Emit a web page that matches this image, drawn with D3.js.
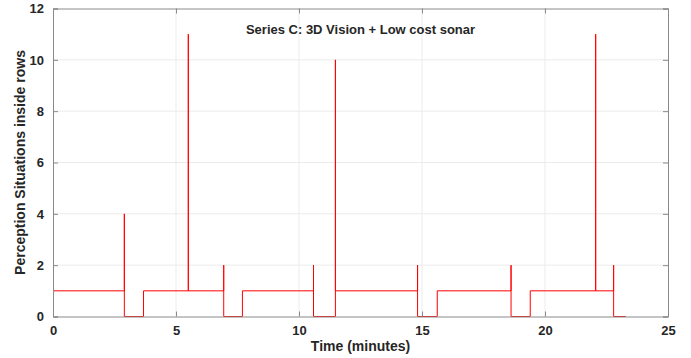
<!DOCTYPE html>
<html>
<head>
<meta charset="utf-8">
<script src="https://cdn.jsdelivr.net/npm/d3@7"></script>
<style>
  body { margin: 0; background: #fff; }
  text { font-family: "Liberation Sans", Arial, sans-serif; font-weight: bold; fill: #262626; }
</style>
</head>
<body>
<div id="chart"></div>
<script>
// step series: time (minutes) and number of perception situations
let times  = [0, 2.90, 2.90, 3.68, 5.50, 5.50, 6.94, 6.94, 7.70, 10.59, 10.59, 11.48, 11.48, 14.82, 14.82, 15.62, 18.62, 18.62, 19.40, 22.06, 22.06, 22.79, 22.79, 23.28];
let values = [1,    4,    0,    1,    11,   1,    2,    0,    1,    2,     0,     10,    1,     2,     0,     1,     2,     0,     1,     11,    1,     2,     0,     0];

let xTicks = [0, 5, 10, 15, 20, 25];
let yTicks = [0, 2, 4, 6, 8, 10, 12];

let titleText = "Series C: 3D Vision + Low cost sonar";
let xLabelText = "Time (minutes)";
let yLabelText = "Perception Situations inside rows";

let svgWidth = 691;
let svgHeight = 358;

let margin = { top: 8.5, right: 23, bottom: 41.5, left: 53 };
let width = svgWidth - margin.left - margin.right;
let height = svgHeight - margin.top - margin.bottom;

let svg = d3.select("#chart")
  .append("svg")
  .attr("width", svgWidth)
  .attr("height", svgHeight);

let chartGroup = svg.append("g")
  .attr("transform", `translate(${margin.left}, ${margin.top})`);

let xScale = d3.scaleLinear().domain([0, 25]).range([0, width]);
let yScale = d3.scaleLinear().domain([0, 12]).range([height, 0]);

// grid
chartGroup.append("g")
  .selectAll("line")
  .data(xTicks.slice(1, -1))
  .enter()
  .append("line")
  .attr("x1", d => xScale(d)).attr("x2", d => xScale(d))
  .attr("y1", 0).attr("y2", height)
  .attr("stroke", "#ebebeb");

chartGroup.append("g")
  .selectAll("line")
  .data(yTicks.slice(1, -1))
  .enter()
  .append("line")
  .attr("x1", 0).attr("x2", width)
  .attr("y1", d => yScale(d)).attr("y2", d => yScale(d))
  .attr("stroke", "#ebebeb");

// data line
let points = times.map((t, i) => [t, values[i]]);
let line = d3.line()
  .x(d => xScale(d[0]))
  .y(d => yScale(d[1]))
  .curve(d3.curveStepAfter);

chartGroup.append("path")
  .datum(points)
  .attr("d", line)
  .attr("fill", "none")
  .attr("stroke", "#ff0000")
  .attr("stroke-width", 1);

// axes, MATLAB style box with inward ticks
let bottomAxis = d3.axisBottom(xScale).tickValues(xTicks).tickSize(-5).tickPadding(9);
let topAxis = d3.axisTop(xScale).tickValues(xTicks).tickSize(-5).tickFormat("");
let leftAxis = d3.axisLeft(yScale).tickValues(yTicks).tickSize(-5).tickPadding(9);
let rightAxis = d3.axisRight(yScale).tickValues(yTicks).tickSize(-5).tickFormat("");

function styleAxis(g) {
  g.selectAll("path").attr("stroke", "#8a8a8a");
  g.selectAll("line").attr("stroke", "#8a8a8a");
  g.selectAll("text")
    .style("font-size", "13px")
    .style("font-weight", "bold")
    .style("font-family", "'Liberation Sans', Arial, sans-serif")
    .attr("fill", "#262626");
}

chartGroup.append("g").attr("transform", `translate(0, ${height})`).call(bottomAxis).call(styleAxis);
chartGroup.append("g").call(topAxis).call(styleAxis);
chartGroup.append("g").call(leftAxis).call(styleAxis);
chartGroup.append("g").attr("transform", `translate(${width}, 0)`).call(rightAxis).call(styleAxis);

// title
chartGroup.append("text")
  .attr("x", width / 2)
  .attr("y", 25)
  .attr("text-anchor", "middle")
  .style("font-size", "13px")
  .text(titleText);

// axis labels
chartGroup.append("text")
  .attr("x", width / 2)
  .attr("y", height + 34)
  .attr("text-anchor", "middle")
  .style("font-size", "14px")
  .text(xLabelText);

chartGroup.append("text")
  .attr("transform", "rotate(-90)")
  .attr("x", -height / 2)
  .attr("y", -28)
  .attr("text-anchor", "middle")
  .style("font-size", "14px")
  .text(yLabelText);
</script>
</body>
</html>
